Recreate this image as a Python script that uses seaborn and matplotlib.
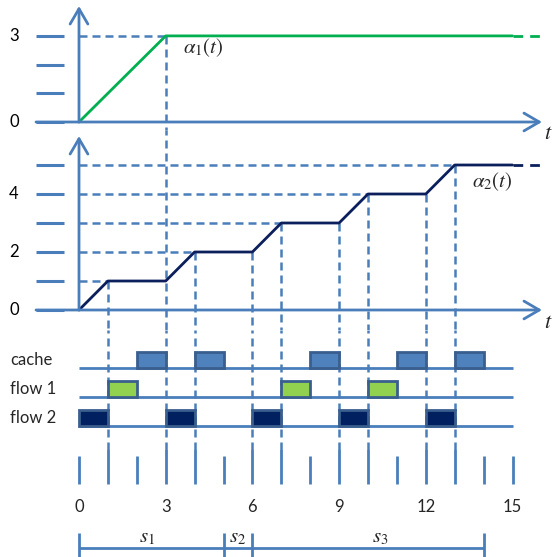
import matplotlib
matplotlib.use("Agg")
import matplotlib.pyplot as plt
import seaborn as sns
import numpy as np
import pandas as pd

# ---------------- data ----------------
alpha1_t = [0, 3, 15]
alpha1_v = [0, 3, 3]
alpha2_t = [0, 1, 3, 4, 6, 7, 9, 10, 12, 13, 15]
alpha2_v = [0, 1, 1, 2, 2, 3, 3, 4, 4, 5, 5]
top_ticks = [0, 1, 2, 3]
top_labels = {0: "0", 3: "3"}
mid_ticks = [0, 1, 2, 3, 4, 5]
mid_labels = {0: "0", 2: "2", 4: "4"}
rows = ["flow 2", "flow 1", "cache"]
cache_slots = [2, 4, 8, 11, 13]
flow1_slots = [1, 7, 10]
flow2_slots = [0, 3, 6, 9, 12]
long_ticks = [1, 3, 4, 6, 7, 9, 10, 12, 13]
short_ticks = [0, 2, 5, 8, 11, 14, 15]
time_labels = [0, 3, 6, 9, 12, 15]
seg_bounds = [0, 5, 6, 14]
seg_names = [r"$s_1$", r"$s_2$", r"$s_3$"]
seg_label_pos = [2.35, 5.47, 10.43]

# ---------------- style ----------------
sns.set_theme(style="white")
plt.rcParams["font.family"] = ["Lato", "DejaVu Sans"]
plt.rcParams["mathtext.fontset"] = "stix"

W, H = 553, 557
fig = plt.figure(figsize=(W / 100, H / 100), dpi=100)

BLUE = "#4a7ebb"
EDGE = "#3a5f8e"
GREEN_LINE = "#00b050"
NAVY = "#0a1f5c"
NAVY_FILL = "#002060"
CACHE_FILL = "#4f81bd"
GREEN_FILL = "#92d050"

X0, XS = 79.0, 28.9  # pixel of t=0, pixels per unit
XLIM = (-X0 / XS, (W - X0) / XS)

def px_x(p):
    return (p - X0) / XS

def make_ax(ptop, pbot):
    ax = fig.add_axes([0, 1 - pbot / H, 1, (pbot - ptop) / H])
    ax.set_xlim(*XLIM)
    ax.axis("off")
    return ax

DASH = dict(color=BLUE, lw=1.8, dashes=(3.2, 2.0))
FS = 12

def arrow(ax, start, tip):
    ax.annotate("", xy=tip, xytext=start,
                arrowprops=dict(arrowstyle="->,head_length=0.55,head_width=0.32",
                                lw=2.0, color=BLUE, shrinkA=0, shrinkB=0,
                                mutation_scale=20))

# ---------------- top panel ----------------
ax1 = make_ax(0, 130)
Y1, S1 = 122.0, 28.7
ax1.set_ylim((Y1 - 130) / S1, Y1 / S1)
for v in top_ticks:
    ax1.plot([px_x(36), px_x(64)], [v, v], color=BLUE, lw=2.2, solid_capstyle="butt")
for v, s in top_labels.items():
    ax1.text(px_x(14), v, s, ha="center", va="center", fontsize=FS, color="black")
ax1.plot([0, 3], [3, 3], **DASH)
ax1.plot([3, 3], [3, (Y1 - 130) / S1], **DASH, clip_on=False)
sns.lineplot(x=alpha1_t, y=alpha1_v, ax=ax1, color=GREEN_LINE, lw=2.0)
ax1.plot([15, 16], [3, 3], color=GREEN_LINE, lw=2.0, dashes=(3.5, 2.5))
arrow(ax1, (0, 0), (0, (Y1 - 6) / S1))
arrow(ax1, (px_x(36), 0), (px_x(542), 0))
ax1.text(px_x(548), (Y1 - 133) / S1, r"$t$", fontsize=16, ha="center", va="center")
ax1.text(4.3, 2.58, r"$\alpha_1(t)$", fontsize=15, ha="center", va="center")

# ---------------- middle panel ----------------
ax2 = make_ax(130, 330)
Y2, S2 = 310.0, 29.0
ax2.set_ylim((Y2 - 330) / S2, (Y2 - 130) / S2)
for v in mid_ticks:
    ax2.plot([px_x(36), px_x(64)], [v, v], color=BLUE, lw=2.2, solid_capstyle="butt")
for v, s in mid_labels.items():
    ax2.text(px_x(14), v, s, ha="center", va="center", fontsize=FS, color="black")
ybot2 = (Y2 - 330) / S2
ytop2 = (Y2 - 130) / S2
rise_ends = [(1, 1), (4, 2), (7, 3), (10, 4), (13, 5)]
for t, v in rise_ends:
    ax2.plot([0, t], [v, v], **DASH)
for t, v in zip(alpha2_t[1:-1], alpha2_v[1:-1]):
    if t == 3:
        ax2.plot([t, t], [ybot2, ytop2], **DASH)
    else:
        ax2.plot([t, t], [v, ybot2], **DASH)
sns.lineplot(x=alpha2_t, y=alpha2_v, ax=ax2, color=NAVY, lw=2.0)
ax2.plot([15, 16], [5, 5], color=NAVY, lw=2.0, dashes=(3.5, 2.5))
arrow(ax2, (0, 0), (0, (Y2 - 136) / S2))
arrow(ax2, (px_x(36), 0), (px_x(542), 0))
ax2.text(px_x(548), (Y2 - 322) / S2, r"$t$", fontsize=16, ha="center", va="center")
ax2.text(14.3, 4.42, r"$\alpha_2(t)$", fontsize=15, ha="center", va="center")

# ---------------- schedule panel ----------------
ax3 = make_ax(330, 450)
Y3, S3 = 426.0, 29.0
ax3.set_ylim((Y3 - 450) / S3, (Y3 - 330) / S3)
ybot3, ytop3 = (Y3 - 450) / S3, (Y3 - 330) / S3
for t in long_ticks:
    ax3.plot([t, t], [ybot3, ytop3], **DASH)
for r, name in enumerate(rows):
    ax3.plot([0, 15], [r, r], color=BLUE, lw=2.0, solid_capstyle="butt")
    ax3.text(px_x(10), r + 0.27, name, ha="left", va="center", fontsize=FS)
BH = 0.55
ax3.bar(cache_slots, BH, width=1, bottom=2, align="edge", color=CACHE_FILL,
        edgecolor=EDGE, linewidth=2.0, zorder=3)
ax3.bar(flow1_slots, BH, width=1, bottom=1, align="edge", color=GREEN_FILL,
        edgecolor=EDGE, linewidth=2.0, zorder=3)
ax3.bar(flow2_slots, BH, width=1, bottom=0, align="edge", color=NAVY_FILL,
        edgecolor=EDGE, linewidth=2.0, zorder=3)

# ---------------- bottom time axis ----------------
ax4 = make_ax(450, 557)
ax4.set_ylim(557, 450)
ax4.vlines(long_ticks, 445, 484, color=BLUE, lw=2.0)
ax4.vlines(short_ticks, 456, 484, color=BLUE, lw=2.0)
for t in time_labels:
    ax4.text(t, 507, str(t), ha="center", va="center", fontsize=FS)
ax4.hlines(548, seg_bounds[0], seg_bounds[-1], color=BLUE, lw=2.0)
ax4.vlines(seg_bounds, 533, 563, color=BLUE, lw=2.0, clip_on=False)
for x, s in zip(seg_label_pos, seg_names):
    ax4.text(x, 537, s, ha="center", va="center", fontsize=15)

fig.savefig("out.png", dpi=100)
